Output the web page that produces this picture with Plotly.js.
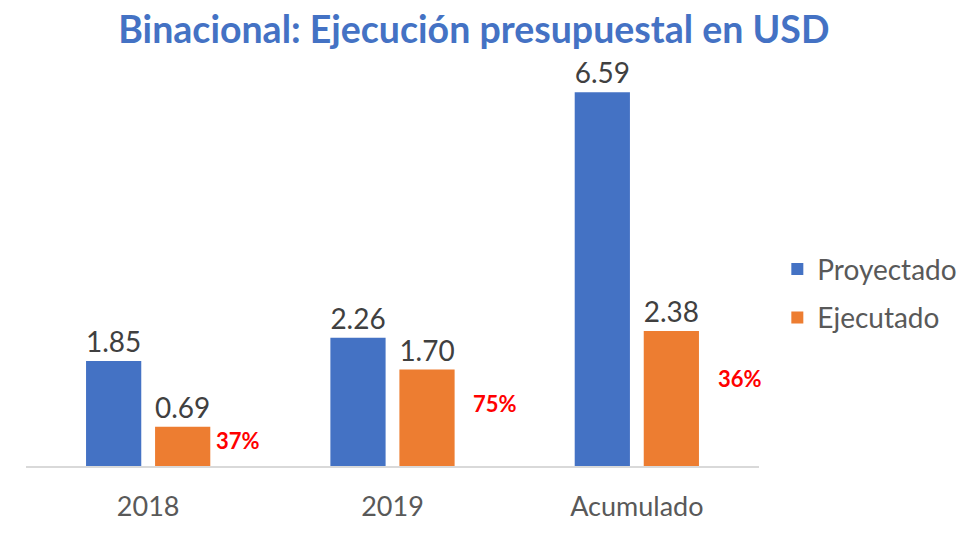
<!DOCTYPE html>
<html><head><meta charset="utf-8">
<script src="https://cdn.plot.ly/plotly-3.0.1.min.js"></script>
<style>html,body{margin:0;padding:0;background:#fff}#chart{width:975px;height:536px}</style>
</head><body><div id="chart"></div>
<script>
const categories = ['2018', '2019', 'Acumulado'];
const proyectado = [1.85, 2.26, 6.59];
const ejecutado = [0.69, 1.70, 2.38];
const porcentajes = ['37%', '75%', '36%'];

const FONT = 'Lato, "Open Sans", sans-serif';
const fmt = v => v.toFixed(2);

const traces = [
  {type:'bar', name:'Proyectado', x:categories, y:proyectado, legendgroup:'a',
   marker:{color:'#4472C4'}, text:proyectado.map(fmt), textposition:'outside',
   textfont:{size:28, color:'#404040', family:FONT}, cliponaxis:false, hoverinfo:'skip'},
  {type:'bar', name:'Ejecutado', x:categories, y:ejecutado, legendgroup:'b',
   marker:{color:'#ED7D31'}, text:ejecutado.map(fmt), textposition:'outside',
   textfont:{size:28, color:'#404040', family:FONT}, cliponaxis:false, hoverinfo:'skip'}
];

const shifts = [66, 78, 79];
const annotations = categories.map((c, i) => ({
  x: i, y: ejecutado[i] * 0.65, xref:'x', yref:'y', text: porcentajes[i],
  showarrow:false, xanchor:'left', yanchor:'middle', xshift: shifts[i],
  font:{size:22, color:'#FF0000', family:FONT, weight:'bold'}
}));

const layout = {
  width:975, height:536,
  paper_bgcolor:'#ffffff', plot_bgcolor:'#ffffff',
  margin:{l:26, r:216, t:69, b:70},
  title:{text:'<b>Binacional: Ejecución presupuestal en USD</b>', x:0.486, xanchor:'center', y:0.945, yanchor:'middle',
         font:{size:37.5, color:'#4472C4', family:FONT}},
  barmode:'group', bargap:0.435, bargroupgap:0.2,
  xaxis:{type:'category', range:[-0.5, 2.5], showline:true, linecolor:'#D9D9D9', linewidth:1.5, ticks:'', showgrid:false,
         tickfont:{size:27, color:'#595959', family:FONT}, ticklabelstandoff:16},
  yaxis:{range:[0,7], visible:false, showgrid:false, zeroline:false},
  legend:{x:1.025, xanchor:'left', y:0.435, yanchor:'middle', traceorder:'grouped', tracegroupgap:9,
          font:{size:28, color:'#595959', family:FONT}},
  annotations: annotations,
  showlegend:true
};
Plotly.newPlot('chart', traces, layout, {staticPlot:true});
</script></body></html>
